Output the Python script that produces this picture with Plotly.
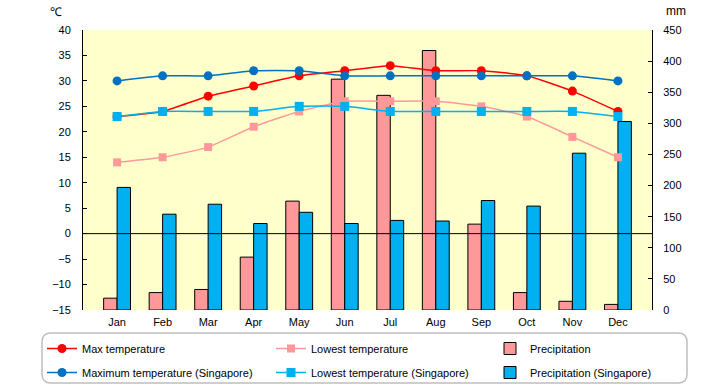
import plotly.graph_objects as go

months = ["Jan", "Feb", "Mar", "Apr", "May", "Jun", "Jul", "Aug", "Sep", "Oct", "Nov", "Dec"]
max_temp = [23, 24, 27, 29, 31, 32, 33, 32, 32, 31, 28, 24]
low_temp = [14, 15, 17, 21, 24, 26, 26, 26, 25, 23, 19, 15]
precip = [19, 28, 33, 85, 175, 371, 345, 417, 138, 28, 14, 9]
sg_max_temp = [30, 31, 31, 32, 32, 31, 31, 31, 31, 31, 31, 30]
sg_low_temp = [23, 24, 24, 24, 25, 25, 24, 24, 24, 24, 24, 23]
sg_precip = [197, 154, 170, 139, 157, 139, 144, 143, 176, 167, 252, 303]

W, H = 720, 385
L, R, T, B = 83, 68, 30, 75
PW, PH = W - L - R, H - T - B


def px_x(x):
    return (x - L) / PW


def px_y(y):
    return (H - B - y) / PH


FONT = "Liberation Sans, Arial, sans-serif"

fig = go.Figure()

# bars on primary y (right side, mm)
fig.add_trace(go.Bar(x=months, y=precip, name="Precipitation", yaxis="y",
                     marker=dict(color="#FF9999", line=dict(color="black", width=1)),
                     legend="legend3", legendgroup="p1", legendrank=1))
fig.add_trace(go.Bar(x=months, y=sg_precip, name="Precipitation (Singapore)", yaxis="y",
                     marker=dict(color="#00B0F0", line=dict(color="black", width=1)),
                     legend="legend3", legendgroup="p2", legendrank=2))

# lines on overlaying y2 (left side, °C)
fig.add_trace(go.Scatter(x=months, y=max_temp, name="Max temperature", yaxis="y2",
                         mode="lines+markers", line=dict(color="#FF0000", width=1.5, shape="spline", smoothing=0.5),
                         marker=dict(symbol="circle", size=9, color="#FF0000"),
                         legend="legend", legendgroup="a1", legendrank=1))
fig.add_trace(go.Scatter(x=months, y=sg_max_temp, name="Maximum temperature (Singapore)", yaxis="y2",
                         mode="lines+markers", line=dict(color="#0070C0", width=1.5, shape="spline", smoothing=0.5),
                         marker=dict(symbol="circle", size=9, color="#0070C0"),
                         legend="legend", legendgroup="a2", legendrank=2))
fig.add_trace(go.Scatter(x=months, y=low_temp, name="Lowest temperature", yaxis="y2",
                         mode="lines+markers", line=dict(color="#FF9999", width=1.5, shape="spline", smoothing=0.5),
                         marker=dict(symbol="square", size=8, color="#FF9999"),
                         legend="legend2", legendgroup="b1", legendrank=1))
fig.add_trace(go.Scatter(x=months, y=sg_low_temp, name="Lowest temperature (Singapore)", yaxis="y2",
                         mode="lines+markers", line=dict(color="#00B0F0", width=1.5, shape="spline", smoothing=0.5),
                         marker=dict(symbol="square", size=9, color="#00B0F0"),
                         legend="legend2", legendgroup="b2", legendrank=2))

leg_common = dict(orientation="v", bgcolor="rgba(0,0,0,0)", borderwidth=0,
                  font=dict(family=FONT, size=11, color="black"),
                  xanchor="left", yanchor="top", tracegroupgap=5, itemclick=False)
ly = px_y(334)
fig.update_layout(
    legend=dict(x=px_x(42), y=ly, **leg_common),
    legend2=dict(x=px_x(271), y=ly, **leg_common),
    legend3=dict(x=px_x(490), y=ly, **leg_common),
)

# rounded legend frame
x0, x1 = px_x(42), px_x(687)
y0, y1 = px_y(383), px_y(333)
rx, ry = 9 / PW, 9 / PH
path = (f"M {x0+rx},{y1} L {x1-rx},{y1} Q {x1},{y1} {x1},{y1-ry} L {x1},{y0+ry} "
        f"Q {x1},{y0} {x1-rx},{y0} L {x0+rx},{y0} Q {x0},{y0} {x0},{y0+ry} "
        f"L {x0},{y1-ry} Q {x0},{y1} {x0+rx},{y1} Z")
fig.add_shape(type="path", path=path, xref="paper", yref="paper",
              line=dict(color="#BFBFBF", width=1.5), fillcolor="rgba(0,0,0,0)", layer="above")
# zero reference line for temperature axis (drawn above bars)
fig.add_shape(type="line", xref="paper", x0=0, x1=1, yref="y2", y0=0, y1=0,
              line=dict(color="black", width=1), layer="above")

fig.add_annotation(text="℃", xref="paper", yref="paper", x=px_x(56), y=px_y(12),
                   xanchor="center", yanchor="middle",
                   showarrow=False, font=dict(family=FONT, size=12, color="black"))
fig.add_annotation(text="mm", xref="paper", yref="paper", x=px_x(676), y=px_y(11),
                   xanchor="center", yanchor="middle",
                   showarrow=False, font=dict(family=FONT, size=12, color="black"))

fig.update_layout(
    width=W, height=H,
    margin=dict(l=L, r=R, t=T, b=B, pad=0, autoexpand=False),
    paper_bgcolor="white",
    plot_bgcolor="#FFFFCC",
    barmode="group", bargap=0.41, bargroupgap=0,
    font=dict(family=FONT, size=11, color="black"),
    showlegend=True,
    xaxis=dict(type="category", showgrid=False, showline=False, ticks="",
               tickfont=dict(family=FONT, size=11), ticklabelstandoff=4),
    yaxis=dict(side="right", range=[0, 450], dtick=50, showgrid=False, zeroline=False,
               showline=True, linecolor="black", linewidth=1, ticks="inside", ticklen=4,
               tickcolor="black", ticklabelstandoff=8, tickfont=dict(family=FONT, size=11)),
    yaxis2=dict(side="left", overlaying="y", range=[-15, 40], dtick=5, showgrid=False,
                zeroline=False, showline=True, linecolor="black", linewidth=1,
                ticks="inside", ticklen=4, tickcolor="black", ticklabelstandoff=9,
                tickfont=dict(family=FONT, size=11)),
)

fig.write_html("out.html", config={"displayModeBar": False},
               post_script="document.body.style.margin='0';")
